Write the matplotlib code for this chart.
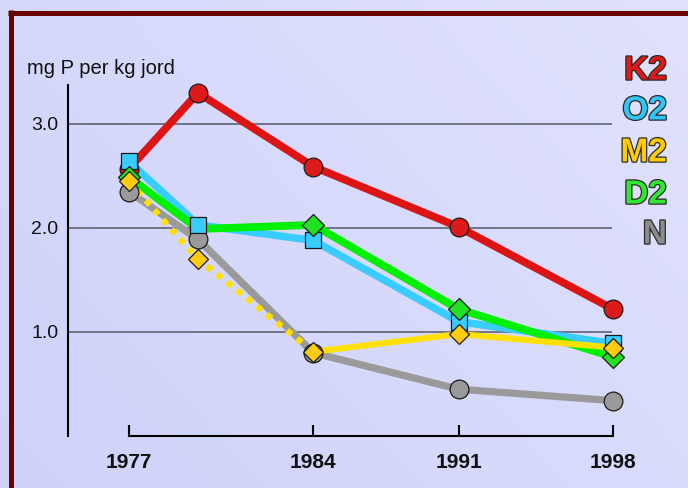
#!/usr/bin/env python3
"""
Phosphorus in soil (mg P per kg jord) for five treatments, 1977-1998.
"""

import numpy as np
import matplotlib
matplotlib.use("Agg")
import matplotlib.pyplot as plt
import matplotlib.patheffects as pe
from matplotlib.lines import Line2D

# sampling positions on the (not to scale) time axis of the original chart
x_pos = [1977, 1980, 1985, 1991.3, 1998]
tick_pos = [1977, 1985, 1991.3, 1998]
tick_labels = ["1977", "1984", "1991", "1998"]

k2 = [2.57, 3.30, 2.59, 2.01, 1.22]
o2 = [2.64, 2.03, 1.88, 1.10, 0.89]
d2 = [2.49, 1.99, 2.03, 1.22, 0.76]
m2 = [2.45, 1.70, 0.81, 0.98, 0.85]
n = [2.35, 1.89, 0.80, 0.45, 0.34]

y_ticks = [1.0, 2.0, 3.0]
y_tick_labels = ["1.0", "2.0", "3.0"]

legend_names = ["K2", "O2", "M2", "D2", "N"]
legend_colors = ["#dc1a1a", "#33c4f4", "#ffcc00", "#33e633", "#8c8c8c"]

FONT = ["Liberation Sans", "DejaVu Sans"]

fig = plt.figure(figsize=(6.88, 4.88), dpi=100)

# ---- background gradient ----
bg = fig.add_axes([0, 0, 1, 1], zorder=-10)
gx, gy = np.meshgrid(np.linspace(0, 1, 200), np.linspace(0, 1, 200))
g = (gx * 0.6 + (1 - gy) * 0.4)
c0 = np.array([207, 210, 250]) / 255
c1 = np.array([224, 226, 252]) / 255
img = c0 + (c1 - c0) * g[..., None]
bg.imshow(img, aspect="auto", extent=[0, 1, 0, 1], origin="upper")
bg.axis("off")

# ---- dark red frame (top and left) ----
W, H = 688, 488
fig.add_artist(Line2D([8 / W, 1], [1 - 12.5 / H] * 2, transform=fig.transFigure,
                      color="#680000", lw=3.6, solid_capstyle="butt"))
fig.add_artist(Line2D([10.5 / W] * 2, [0, 1 - 10 / H], transform=fig.transFigure,
                      color="#680000", lw=3.6, solid_capstyle="butt"))

# ---- main axes ----
ax = fig.add_axes([68 / W, 52 / H, (625 - 68) / W, 351 / H])
ax.set_facecolor("none")
ax.set_xlim(1977 - 61 / 23.095, 1998 + 12 / 23.095)
ax.set_ylim(0, 3.375)

ax.hlines(y_ticks, ax.get_xlim()[0], 1997.95, color="#555868", lw=1.1, zorder=1)

# lines
ax.plot(x_pos, n, color="#9a9a9a", lw=5.2, solid_capstyle="round", zorder=2)
ax.plot(x_pos, k2, color="#dc1414", lw=5.6, zorder=2.1)
ax.plot(x_pos, o2, color="#38ccff", lw=5.4, zorder=2.2)
ax.plot(x_pos, d2, color="#00f000", lw=5.6, zorder=2.3)
ax.plot(x_pos[:3], m2[:3], color="#ffe000", lw=4.4, linestyle=(0, (1, 1.1)), zorder=2.4)
ax.plot(x_pos[2:], m2[2:], color="#ffe000", lw=4.4, zorder=2.4)

# markers
mk = dict(linestyle="none", markeredgecolor="#1a1a1a", markeredgewidth=0.9, clip_on=False)
ax.plot(x_pos, n, marker="o", markersize=13.5, markerfacecolor="#9a9a9a", zorder=3, **mk)
ax.plot(x_pos, k2, marker="o", markersize=13.5, markerfacecolor="#dc1a1a", zorder=3.1, **mk)
ax.plot(x_pos, o2, marker="s", markersize=11, markerfacecolor="#38ccff", zorder=3.2, **mk)
ax.plot(x_pos, d2, marker="D", markersize=10.8, markerfacecolor="#22e022",
        markevery=[0, 2, 3, 4], zorder=3.3, **mk)
ax.plot(x_pos, m2, marker="D", markersize=10.2, markerfacecolor="#ffcc11", zorder=3.4, **mk)

# spines / ticks
for s in ("top", "right"):
    ax.spines[s].set_visible(False)
ax.spines["left"].set_linewidth(1.5)
ax.spines["bottom"].set_linewidth(1.5)
ax.spines["bottom"].set_bounds(1977, 1998)

ax.set_yticks(y_ticks)
ax.set_yticklabels(y_tick_labels, family=FONT, fontsize=14, color="#111111")
ax.tick_params(axis="y", length=0, pad=7)

ax.set_xticks(tick_pos)
ax.set_xticklabels(tick_labels, family=FONT, fontsize=15, fontweight="bold", color="#111111")
ax.tick_params(axis="x", direction="in", length=8, width=1.5, pad=12)

fig.text(27 / W, 1 - 74 / H, "mg P per kg jord", family=FONT, fontsize=14.5,
         color="#111111", va="baseline", ha="left")

# colored series names on the right
legend_y = [71, 111, 153, 195, 235]
for name, col, yy in zip(legend_names, legend_colors, legend_y):
    fig.text(667 / W, 1 - yy / H, name, family=FONT, fontsize=24, fontweight="bold",
             color=col, ha="right", va="center",
             path_effects=[pe.Stroke(linewidth=1.8, foreground="#2a2a2a"), pe.Normal()])

fig.savefig("out.png", dpi=100)
